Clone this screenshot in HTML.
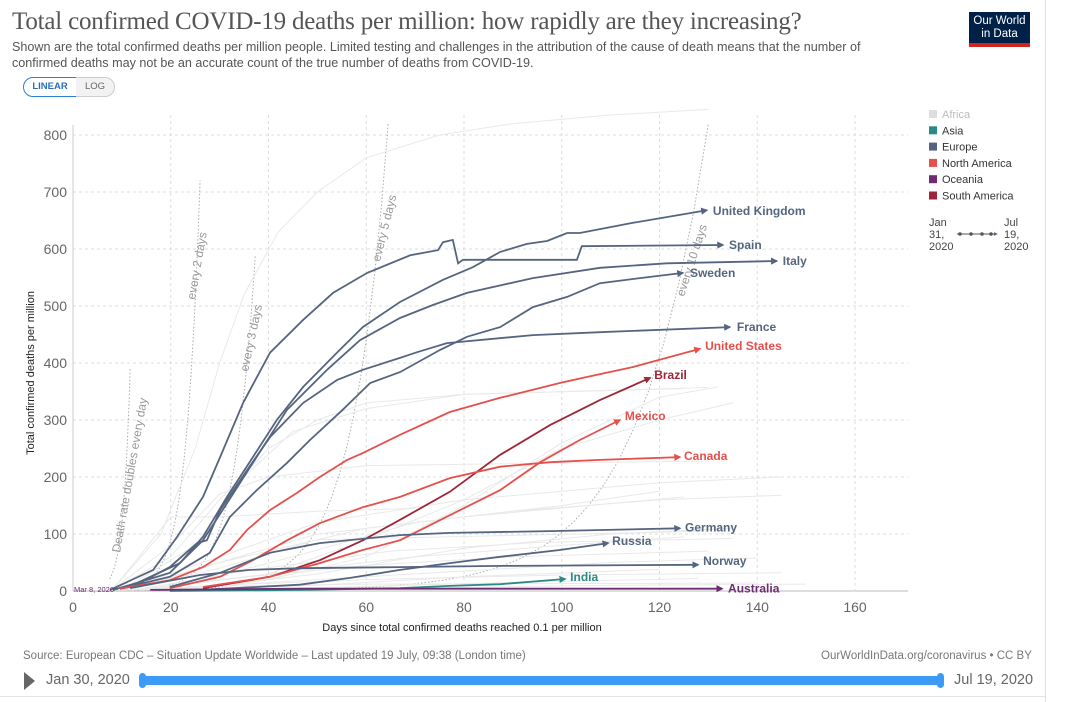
<!DOCTYPE html>
<html><head><meta charset="utf-8">
<style>
body{margin:0;background:#fff;font-family:"Liberation Sans",sans-serif;}
#wrap{position:relative;width:1066px;height:702px;overflow:hidden;background:#fff;}
.t{position:absolute;white-space:nowrap;}
</style></head>
<body>
<div id="wrap">
<div class="t" style="left:12px;top:8px;font-family:'Liberation Serif',serif;font-size:25px;color:#555;letter-spacing:-0.2px;">Total confirmed COVID-19 deaths per million: how rapidly are they increasing?</div>
<div class="t" style="left:12px;top:39px;font-size:12.6px;color:#555;line-height:16px;white-space:normal;width:880px;">Shown are the total confirmed deaths per million people. Limited testing and challenges in the attribution of the cause of death means that the number of confirmed deaths may not be an accurate count of the true number of deaths from COVID-19.</div>
<div style="position:absolute;left:969px;top:12px;width:61px;height:35px;background:#002147;border-bottom:4px solid #ce261e;box-sizing:border-box;color:#fff;font-size:11.5px;line-height:13px;text-align:center;padding-top:3px;">Our World<br>in Data</div>
<div style="position:absolute;left:23px;top:77px;width:52px;height:18px;border:1px solid #2a80d8;border-radius:10px 0 0 10px;font-size:9.5px;color:#2a6ebb;text-align:center;line-height:18px;font-weight:bold;box-sizing:content-box;">LINEAR</div>
<div style="position:absolute;left:76px;top:77px;width:38px;height:18px;border:1px solid #ccc;border-left:none;border-radius:0 10px 10px 0;font-size:9.5px;color:#666;text-align:center;line-height:18px;background:#f2f2f2;">LOG</div>
<div style="position:absolute;left:1045px;top:0;width:1px;height:702px;background:#e0e0e0;"></div>
<svg id="svg" width="1066" height="702" style="position:absolute;left:0;top:0;" xmlns="http://www.w3.org/2000/svg"></svg>
<div class="t" style="left:23px;top:650px;font-size:11.5px;color:#777;">Source: European CDC – Situation Update Worldwide – Last updated 19 July, 09:38 (London time)</div>
<div class="t" style="left:821px;top:650px;font-size:11.5px;color:#777;">OurWorldInData.org/coronavirus • CC BY</div>
<div style="position:absolute;left:24px;top:672px;width:0;height:0;border-left:11px solid #666;border-top:9px solid transparent;border-bottom:9px solid transparent;"></div>
<div class="t" style="left:46px;top:672px;font-size:14.5px;color:#666;">Jan 30, 2020</div>
<div style="position:absolute;left:142px;top:676px;width:800px;height:9px;background:#3d9bf7;border-radius:2px;"></div>
<div style="position:absolute;left:139px;top:673px;width:7px;height:15px;background:#3d9bf7;border-radius:4px;"></div>
<div style="position:absolute;left:937px;top:673px;width:7px;height:15px;background:#3d9bf7;border-radius:4px;"></div>
<div class="t" style="left:954px;top:672px;font-size:14.5px;color:#666;">Jul 19, 2020</div>
<div style="position:absolute;left:0;top:696px;width:1046px;height:1px;background:#e3e3e3;"></div>
</div>
<script>
// ---- data (day, deaths per million) ----
const seriesNames = ["United Kingdom","Spain","Italy","Sweden","France","United States","Brazil","Mexico","Canada","Germany","Russia","Norway","India","Australia"];
const spain = [[7.6,2],[16.4,37],[21.3,95],[26.6,165],[30.1,235],[34.8,330],[40.3,418],[47,475],[53.2,523],[60.2,558],[69,589],[74.7,598],[75.7,612],[77.7,616],[78.8,575],[79.8,581],[103.1,581],[104.1,605],[133,607]];
const uk = [[8.2,2],[13.1,14],[21.9,49],[26.6,95],[31.5,165],[36.8,235],[41.7,300],[47.1,358],[54,418],[59.3,463],[66.9,507],[75.7,546],[81.8,568],[87.4,595],[92.9,609],[97,614],[101.1,628],[103.7,628],[114.6,646],[129.7,668]];
const italy = [[9.6,5],[19.8,32],[26.6,89],[31.5,154],[36.8,225],[43.8,318],[52,388],[58.7,440],[66.9,479],[73.7,502],[80.6,523],[94.1,549],[107.8,567],[121.5,575],[144,579]];
const france = [[11.7,5],[19.8,42],[25.4,84],[27.4,89],[30.1,142],[35.6,212],[40.3,270],[47.1,330],[54,370],[59.3,388],[66.9,409],[70.4,419],[76.5,435],[94.1,449],[107.8,454],[134.4,463]];
const sweden = [[9.6,4],[19.8,25],[28,67],[32.1,130],[37.6,177],[43.8,225],[48.5,265],[55.2,318],[60.8,365],[66.9,384],[75.1,423],[80.6,446],[87.4,463],[94.1,498],[101.1,516],[107.8,540],[116,549],[124.8,558]];
const usa = [[9.6,4],[19.8,19],[26.6,42],[32.1,72],[35.6,107],[40.3,142],[45.8,172],[50.5,200],[56.1,230],[59.3,242],[66.9,274],[77.1,314],[87.4,339],[94.1,353],[99.6,365],[104.4,374],[114.6,393],[128.3,425]];
const canada = [[19.8,5],[30.1,25],[36.8,54],[43.8,89],[50.5,119],[59.3,147],[66.9,165],[77.1,198],[87.4,218],[97.6,226],[107.8,230],[124.2,235]];
const mexico = [[26.6,7],[40.3,25],[50.5,49],[59.3,72],[66.9,89],[77.1,133],[87.4,177],[95.6,226],[103.7,265],[111.9,300]];
const brazil = [[26.6,5],[40.3,25],[50.5,54],[59.3,89],[66.9,125],[77.1,174],[87.4,239],[97.6,291],[107.8,335],[118.1,374]];
const germany = [[19.8,7],[30.1,32],[40.3,67],[50.5,84],[66.9,98],[77.1,102],[97.6,105],[124.2,110]];
const russia = [[26,2],[46.4,11],[56.7,23],[66.9,37],[77.1,49],[87.4,60],[99.6,72],[109.5,84]];
const norway = [[11.7,5],[26,28],[36.2,37],[46.4,40],[66.9,42],[87.4,44],[127.9,46]];
const india = [[19.8,0],[46.4,2],[66.9,5],[77.1,9],[87.4,12],[100.7,21]];
const australia = [[15.8,2],[46.4,4],[132.8,4]];
const seriesData = [uk,spain,italy,sweden,france,usa,brazil,mexico,canada,germany,russia,norway,india,australia];
const seriesRegion = ["Europe","Europe","Europe","Europe","Europe","North America","South America","North America","North America","Europe","Europe","Europe","Asia","Oceania"];
// other countries (unlabelled, grey)
const greyData = [
 [[8,2],[18,100],[25,250],[30,400],[35,520],[42,630],[50,700],[60,760],[75,800],[90,820],[110,835],[130,845]],
 [[20,2],[40,20],[60,60],[80,150],[100,260],[120,340],[132,358]],
 [[15,2],[40,30],[60,90],[80,160],[100,250],[120,300],[135,330]],
 [[8,2],[20,60],[30,160],[40,250],[50,300],[60,330],[80,345],[130,357]],
 [[10,2],[25,80],[35,200],[45,280],[60,320],[80,345],[125,355]],
 [[8,2],[20,80],[30,170],[40,200],[60,220],[130,228]],
 [[10,2],[30,60],[50,120],[80,160],[120,190],[145,200]],
 [[12,2],[30,50],[60,110],[90,140],[120,160],[145,168]],
 [[10,1],[30,50],[50,100],[80,130],[125,165]],
 [[10,1],[30,40],[50,90],[130,105]],
 [[14,1],[40,30],[70,60],[100,80],[125,95]],
 [[12,1],[30,20],[60,45],[90,60],[130,70]],
 [[16,1],[40,15],[70,30],[110,50],[140,58]],
 [[20,1],[50,10],[80,25],[120,38]],
 [[10,1],[30,10],[60,20],[100,28],[145,32]],
 [[25,1],[60,8],[90,15],[128,22]],
 [[9,1],[25,8],[60,12],[140,14]],
 [[30,1],[70,5],[110,10],[150,12]],
 [[8,1],[20,130],[30,130],[50,140],[70,145]],
 [[18,1],[45,60],[70,120],[100,150],[120,175]],
 [[22,1],[50,30],[80,75],[110,100],[135,110]],
 [[12,1],[35,35],[65,70],[95,85],[135,92]]
];
// doubling-time guide lines: doubling period (days) and end day
const guideDays = [1,2,3,5,10];
const guideEnd = [11.7,26,37.3,64.5,130];
const guideLabels = ["Death rate doubles every day","every 2 days","every 3 days","every 5 days","every 10 days"];
const yTicks = [0,100,200,300,400,500,600,700,800];
const xTicks = [0,20,40,60,80,100,120,140,160];

// ---- styles / scales ----
const regionColor = {"Africa":"#bdbdbd","Asia":"#2c8a85","Europe":"#56657f","North America":"#e5504c","Oceania":"#6d2d70","South America":"#9d2638"};
const labelOffset = [[6,1],[6,0],[6,0],[7,0],[7,0],[5,-3],[4,-3],[5,-4],[4,-1],[5,-1],[4,-2],[5,-4],[5,-2],[6,0]];
const X0=73, Y0=591, PXD=4.8875, PXV=0.57;
const sx = d => X0 + d*PXD;
const sy = v => Y0 - v*PXV;
const NS="http://www.w3.org/2000/svg";
const svg=document.getElementById('svg');
function el(tag, attrs, parent){const e=document.createElementNS(NS,tag);for(const k in attrs)e.setAttribute(k,attrs[k]);(parent||svg).appendChild(e);return e;}

// markers
const defs=el('defs',{});
Object.keys(regionColor).forEach((r,i)=>{
  const m=el('marker',{id:'m'+i,viewBox:'0 0 10 10',refX:'8',refY:'5',markerWidth:'4',markerHeight:'4',orient:'auto'},defs);
  el('path',{d:'M0,0L10,5L0,10z',fill:regionColor[r]},m);
});
const regionIdx=r=>Object.keys(regionColor).indexOf(r);

// grid
const grid=el('g',{});


yTicks.forEach(v=>{
  const l=el('line',{x1:X0,x2:908,y1:sy(v),y2:sy(v),stroke:v===0?'#bbb':'#ddd','stroke-dasharray':v===0?'':'3,3'},grid);
  
  
  const t=el('text',{x:67,y:sy(v)+5,'text-anchor':'end','font-size':'14',fill:'#666','font-family':'Liberation Sans'});
  t.textContent=v;
  
  
});
xTicks.forEach(d=>{
  if(d>0){const l=el('line',{x1:sx(d),x2:sx(d),y1:115,y2:Y0,stroke:'#ddd','stroke-dasharray':'3,3'},grid);
  
  }
  const t=el('text',{x:sx(d),y:612,'text-anchor':'middle','font-size':'14',fill:'#666','font-family':'Liberation Sans'});
  t.textContent=d;
  
  
});
const yax=el('line',{x1:X0,x2:X0,y1:125,y2:Y0,stroke:'#ccc'});



// guide lines
guideDays.forEach((p,i)=>{
  let pts=[];const start=7.5;
  const endV=[390,720,590,820,820][i];
  for(let k=0;k<=40;k++){const d=start+(guideEnd[i]-start)*k/40;const v=endV*Math.pow(2,(d-guideEnd[i])/p);pts.push(sx(d).toFixed(1)+','+sy(v).toFixed(1));}
  const pl=el('polyline',{points:pts.join(' '),fill:'none',stroke:'#aaa','stroke-width':'1','stroke-dasharray':'1.5,2'});
  
  
});
const gl=[[120,553,-80],[195,300,-80],[248,372,-78],[380,262,-76],[684,297,-72]];
gl.forEach((g,i)=>{
  const t=el('text',{x:0,y:0,transform:`translate(${g[0]},${g[1]}) rotate(${g[2]})`,'font-size':'12',fill:'#999','font-family':'Liberation Sans'});
  t.textContent=guideLabels[i];
  
  
});

// grey lines
greyData.forEach(s=>{
  const pl=el('polyline',{points:s.map(p=>sx(p[0])+','+sy(p[1])).join(' '),fill:'none',stroke:'#e9e9e9','stroke-width':'1'});
  
  
});

// main series
seriesData.forEach((s,i)=>{
  const c=regionColor[seriesRegion[i]];
  const pl=el('polyline',{points:s.map(p=>sx(p[0]).toFixed(1)+','+sy(p[1]).toFixed(1)).join(' '),fill:'none',stroke:c,'stroke-width':'1.8','marker-end':`url(#m${regionIdx(seriesRegion[i])})`});
  
  
  const last=s[s.length-1];
  const t=el('text',{x:sx(last[0])+labelOffset[i][0],y:sy(last[1])+4+labelOffset[i][1],'font-size':'12','font-weight':'bold',fill:c,'font-family':'Liberation Sans'});
  t.textContent=seriesNames[i];
  
  
});

const mar=el('text',{x:74,y:592,'font-size':'7.5',fill:'#6d2d70','font-family':'Liberation Sans'});
mar.textContent='Mar 8, 2020';



// axis titles
const yt=el('text',{x:0,y:0,transform:'translate(34,373) rotate(-90)','text-anchor':'middle','font-size':'11',fill:'#222','font-family':'Liberation Sans'});
yt.textContent='Total confirmed deaths per million';


const xt=el('text',{x:462,y:631,'text-anchor':'middle','font-size':'11',fill:'#222','font-family':'Liberation Sans'});
xt.textContent='Days since total confirmed deaths reached 0.1 per million';



// legend
Object.keys(regionColor).forEach((r,i)=>{
  const y=114+i*16.3;
  const sq=el('rect',{x:929,y:y-4,width:8,height:8,fill:r==='Africa'?'#ddd':regionColor[r]});
  
  
  const t=el('text',{x:942,y:y+4,'font-size':'11',fill:r==='Africa'?'#bbb':'#333','font-family':'Liberation Sans'});
  t.textContent=r;
  
  
});
// mini timeline
[['Jan',929,226],['31,',929,238],['2020',929,250],['Jul',1004,226],['19,',1004,238],['2020',1004,250]].forEach(a=>{
  const t=el('text',{x:a[1],y:a[2],'font-size':'11',fill:'#444','font-family':'Liberation Sans'});
  t.textContent=a[0];
  
  
});
const ml=el('line',{x1:957,x2:997,y1:234,y2:234,stroke:'#555','stroke-width':'1','marker-end':'url(#m2)'});


[960,971,982,991].forEach(x=>{const c=el('circle',{cx:x,cy:234,r:1.8,fill:'#555'});

});
</script>
</body></html>
